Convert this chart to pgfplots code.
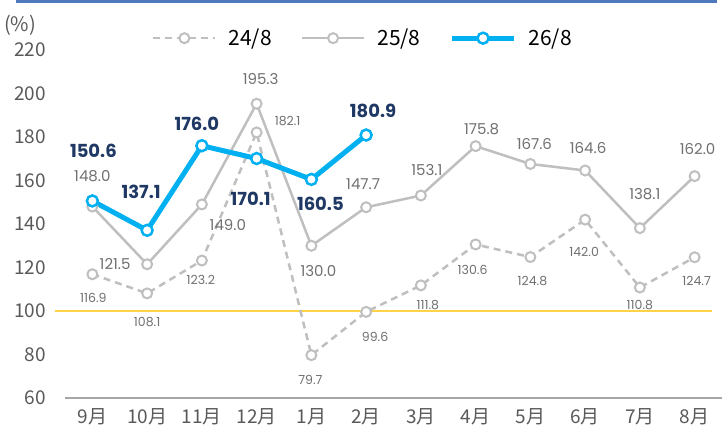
\documentclass[border=0pt]{standalone}
\usepackage{fontspec}
\setmainfont{Noto Sans CJK JP}
\newfontfamily\pop{Poppins}
\usepackage{pgfplots}
\pgfplotsset{compat=1.18}
\usepackage{pgfplotstable}

\definecolor{lgray}{HTML}{BFBFBF}
\definecolor{sky}{HTML}{00B0F0}
\definecolor{navy}{HTML}{1F3864}
\definecolor{tickgray}{HTML}{595959}
\definecolor{labgray}{HTML}{707070}
\definecolor{axgray}{HTML}{A6A6A6}
\definecolor{gold}{HTML}{FFD347}
\definecolor{framecol}{HTML}{4F79BD}

% x = month index (9月 = 0), dx/dy = label offset in pt
\pgfplotstableread{
x y dx dy
0 116.9 1 -24
1 108.1 0 -29
2 123.2 -1 -19
3 182.1 31 11
4 79.7 -1 -25
5 99.6 9 -25
6 111.8 7 -20
7 130.6 -3 -25
8 124.8 2 -24
9 142.0 -1 -32
10 110.8 0 -18
11 124.7 2 -24
}\dA

\pgfplotstableread{
x y dx dy
0 148.0 0 30
1 121.5 -32 0
2 149.0 26 -21
3 195.3 4 25
4 130.0 7 -25
5 147.7 -3 23
6 153.1 6 25
7 175.8 6 17
8 167.6 4 20
9 164.6 3 22
10 138.1 5 34
11 162.0 3 27
}\dB

\pgfplotstableread{
x y dx dy
0 150.6 1 50
1 137.1 -6 38
2 176.0 -5 22
3 170.1 -6 -40
4 160.5 9 -24
5 180.9 7 24
}\dC

\pgfplotsset{
  vals/.style={
    visualization depends on={\thisrow{dx} \as \dx},
    visualization depends on={\thisrow{dy} \as \dy},
    point meta=y,
    nodes near coords={\pgfmathprintnumber[fixed, fixed zerofill, precision=1]{\pgfplotspointmeta}},
    every node near coord/.append style={anchor=center, inner sep=0pt,
      xshift=\dx*1pt, yshift=\dy*1pt, #1},
  },
}

\begin{document}
\begin{tikzpicture}
\useasboundingbox (0,0) rectangle (724pt,432pt);
\fill[framecol] (16pt,429pt) rectangle (717pt,432pt);
\node[anchor=west, text=tickgray, font=\fontsize{20}{22}\selectfont, inner sep=0pt] at (4pt,407pt) {(\%)};
\begin{axis}[
  at={(65pt,34pt)}, anchor=south west,
  scale only axis, width=657pt, height=348pt,
  xmin=-0.5, xmax=11.5, ymin=60, ymax=220,
  axis x line*=bottom, axis y line*=left,
  y axis line style={draw=none},
  x axis line style={draw=axgray, line width=1.5pt, -},
  xtick={0,...,11},
  xticklabels={9月,10月,11月,12月,1月,2月,3月,4月,5月,6月,7月,8月},
  ytick={60,80,...,220},
  major tick length=0pt,
  tick label style={text=tickgray, font=\fontsize{19}{20}\selectfont},
  yticklabel style={anchor=east, inner sep=0pt, xshift=-19pt},
  xticklabel style={anchor=north, inner sep=0pt, yshift=-10pt},
  /pgf/number format/assume math mode=true,
  clip=false,
  legend columns=3,
  legend style={draw=none, fill=none, at={(0.452,1.034)}, anchor=center,
    inner sep=0pt, font=\fontsize{21}{22}\selectfont,
    nodes={inner sep=0pt},
    /tikz/every odd column/.append style={column sep=12pt},
    /tikz/every even column/.append style={column sep=29pt}},
  legend image code/.code={\draw[mark repeat=2, mark phase=2, #1] plot coordinates {(0pt,0pt) (31pt,0pt) (62pt,0pt)};},
]
\addplot[gold, line width=2pt, forget plot] coordinates {(-0.69,100) (11.31,100)};

\addplot[lgray, line width=2.5pt, dash pattern=on 7pt off 5pt,
  mark=*, mark size=5pt, mark options={solid, fill=white, draw=lgray, line width=2pt},
  vals={text=labgray, font=\pop\fontsize{12.5}{13}\selectfont}]
  table[x=x, y=y] {\dA};
\addlegendentry{24/8}

\addplot[lgray, line width=2.5pt,
  mark=*, mark size=5pt, mark options={solid, fill=white, draw=lgray, line width=2pt},
  vals={text=labgray, font=\pop\fontsize{15}{16}\selectfont}]
  table[x=x, y=y] {\dB};
\addlegendentry{25/8}

\addplot[sky, line width=5pt,
  mark=*, mark size=5.5pt, mark options={solid, fill=white, draw=sky, line width=2.5pt},
  vals={text=navy, font=\pop\bfseries\fontsize{18}{19}\selectfont}]
  table[x=x, y=y] {\dC};
\addlegendentry{26/8}
\end{axis}
\end{tikzpicture}
\end{document}
